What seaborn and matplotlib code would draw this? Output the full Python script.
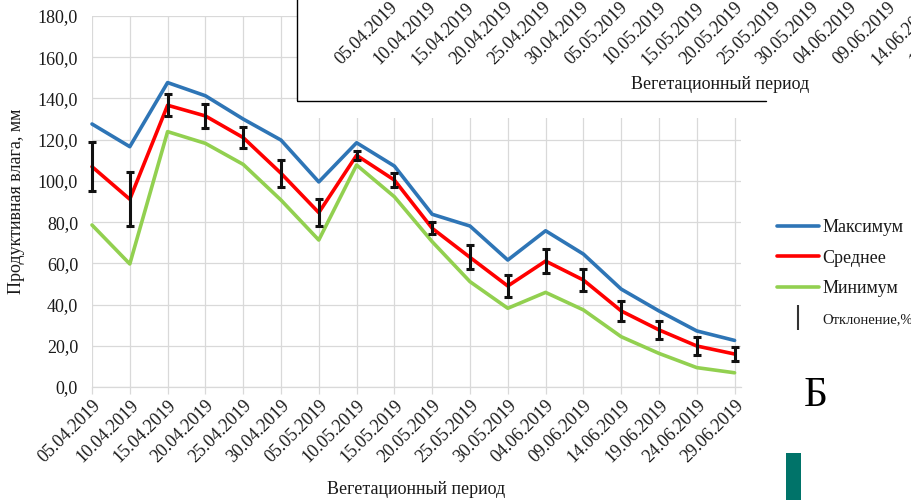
import numpy as np
import pandas as pd
import matplotlib
matplotlib.use("Agg")
import matplotlib.pyplot as plt
from matplotlib.lines import Line2D
from matplotlib.patches import Rectangle
from matplotlib.ticker import FuncFormatter
import seaborn as sns

dates = ["05.04.2019", "10.04.2019", "15.04.2019", "20.04.2019", "25.04.2019",
         "30.04.2019", "05.05.2019", "10.05.2019", "15.05.2019", "20.05.2019",
         "25.05.2019", "30.05.2019", "04.06.2019", "09.06.2019", "14.06.2019",
         "19.06.2019", "24.06.2019", "29.06.2019"]
max_vals = [127.6, 116.6, 147.7, 141.3, 130.0, 119.8, 99.5, 118.5, 107.2,
            83.8, 78.1, 61.6, 75.8, 64.5, 47.5, 36.9, 27.2, 22.6]
mean_vals = [106.9, 91.1, 136.7, 131.5, 121.0, 103.7, 84.6, 112.4, 100.4,
             77.0, 62.9, 49.0, 61.1, 51.9, 36.9, 27.7, 19.9, 16.0]
min_vals = [78.6, 59.7, 123.9, 118.2, 108.0, 90.7, 71.3, 107.7, 92.3,
            70.5, 51.1, 38.2, 45.9, 37.4, 24.4, 16.3, 9.4, 6.9]
dev_vals = [11.9, 13.0, 5.4, 5.6, 5.2, 6.5, 6.5, 2.3, 3.2,
            3.0, 5.8, 5.2, 5.9, 5.5, 5.0, 4.3, 4.2, 3.6]
series_names = ["Максимум", "Среднее", "Минимум"]
dev_name = "Отклонение,%"
colors = {"Максимум": "#2e75b6", "Среднее": "#ff0000", "Минимум": "#92d050"}

sns.set_theme(style="white")
plt.rcParams["font.family"] = ["Liberation Serif", "DejaVu Serif"]
TXT = "#1a1a1a"

pos = np.arange(len(dates))
df = pd.DataFrame({
    "pos": np.tile(pos, 3),
    "value": max_vals + mean_vals + min_vals,
    "series": np.repeat(series_names, len(dates)),
})

W, H = 912, 500
fig = plt.figure(figsize=(W / 100, H / 100), dpi=100)


def px_box(x0, y0, x1, y1):
    return [x0 / W, 1 - y1 / H, (x1 - x0) / W, (y1 - y0) / H]


ax = fig.add_axes(px_box(92, 16, 741, 387))
sns.lineplot(data=df, x="pos", y="value", hue="series", palette=colors,
             hue_order=series_names, linewidth=2.6, legend=False, ax=ax)
ax.errorbar(pos, mean_vals, yerr=dev_vals, fmt="none", ecolor="#111111",
            elinewidth=2.2, capsize=3, capthick=2.2, zorder=5)
for ln in ax.get_lines():
    ln.set_clip_on(False)
for c in ax.collections:
    c.set_clip_on(False)

ax.set_xlim(0, 17.17)
ax.set_ylim(0, 180)
ax.set_yticks(np.arange(0, 181, 20))
ax.yaxis.set_major_formatter(FuncFormatter(lambda v, p: f"{v:.1f}".replace(".", ",")))
ax.set_xticks(pos)
ax.set_xticklabels(dates, rotation=45, ha="right", rotation_mode="anchor")
ax.grid(True, color="#d9d9d9", linewidth=0.9)
ax.set_axisbelow(True)
for s in ["left", "right", "top"]:
    ax.spines[s].set_visible(False)
ax.spines["bottom"].set_color("#d9d9d9")
ax.spines["bottom"].set_linewidth(0.9)
ax.tick_params(axis="x", length=5, width=0.9, color="#d9d9d9", pad=2,
               labelsize=13, labelcolor=TXT, bottom=True)
ax.tick_params(axis="y", length=0, pad=10, labelsize=13, labelcolor=TXT)
ax.set_xlabel("Вегетационный период", fontsize=13, color=TXT, labelpad=11)
ax.set_ylabel("Продуктивная влага, мм", fontsize=13, color=TXT, labelpad=9)

handles = [Line2D([], [], color=colors[n], linewidth=2.6) for n in series_names]
handles.append(Line2D([], [], color="#333333", marker="|", markersize=18,
                      markeredgewidth=1.5, linestyle="none"))
leg = fig.legend(handles, series_names + [dev_name], loc="upper left",
                 bbox_to_anchor=(777 / W, 1 - 219 / H), frameon=False,
                 fontsize=13, handlelength=2.3, handletextpad=0.2,
                 labelspacing=0.75, borderpad=0, borderaxespad=0)
for t in leg.get_texts():
    t.set_color(TXT)
leg.get_texts()[3].set_fontsize(10.5)

# overlapping fragment of another chart in the top-right corner
ov = fig.add_axes(px_box(297, 0, 1000, 118))
ov.set_facecolor("white")
ov.spines["bottom"].set_position(("axes", 1.03))
ov.spines["bottom"].set_visible(False)
ov.spines["top"].set_visible(False)
ov.spines["right"].set_visible(False)
ov.spines["left"].set_color("black")
ov.spines["left"].set_linewidth(1.0)
ov.set_xlim(-2.40, 15.96)
ov.set_ylim(0, 118)
ov.set_yticks([])
ov.set_xticks(pos[:16])
ov.set_xticklabels(dates[:16])
ov.tick_params(axis="x", length=0, pad=2, labelsize=13, labelcolor=TXT,
               labelrotation=45)
plt.setp(ov.get_xticklabels(), ha="right", rotation_mode="anchor")
ov.spines["left"].set_bounds(18, 118)
ov.axhline(17, xmin=0, xmax=(766 - 297) / 703, color="black", linewidth=1.0)
ov.set_xlabel("Вегетационный период", fontsize=13, color=TXT)
ov.xaxis.set_label_coords((720 - 297) / 703, (118 - 76) / 118)

fig.text(816 / W, 1 - 396 / H, "Б", fontsize=30, color="black",
         ha="center", va="center")
fig.patches.append(Rectangle((786 / W, 0), 15 / W, 47 / H,
                             transform=fig.transFigure, facecolor="#007369",
                             edgecolor="none"))

fig.savefig("out.png", dpi=100)
